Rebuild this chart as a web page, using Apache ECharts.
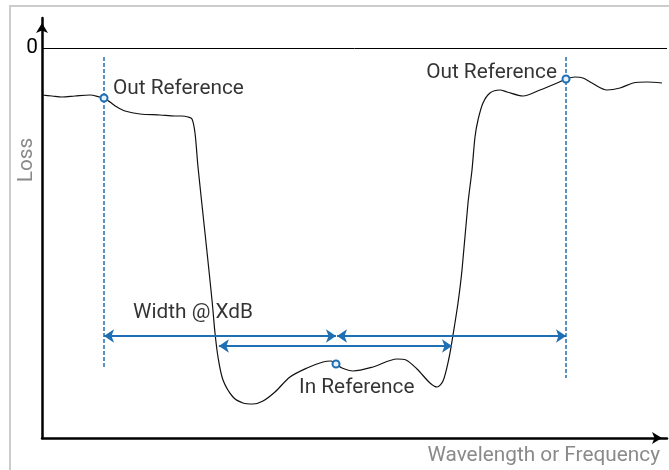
<!DOCTYPE html>
<html>
<head>
<meta charset="utf-8">
<script src="https://cdn.jsdelivr.net/npm/echarts@6/dist/echarts.min.js"></script>
<style>
  html, body { margin: 0; padding: 0; background: #fff; }
  #chart { width: 669px; height: 470px; }
</style>
</head>
<body>
<div id="chart"></div>
<script>
// Filter response: position along the spectrum (0–100) vs level in dB (0 = no loss)
const curveX = [0, 1.6, 3.2, 5.28, 7.68, 9.28, 9.92, 10.88, 12.0, 13.28, 15.68, 18.88, 21.28, 22.4, 23.36, 24.0,
  24.48, 24.96, 26.08, 27.2, 27.68, 28.16, 28.96, 30.56, 32.16, 33.76, 35.36, 37.28, 39.68, 42.4, 44.96, 46.24,
  47.04, 48.0, 49.76, 52.96, 56.8, 58.24, 60.0, 62.08, 63.2, 64.16, 65.12, 65.76, 66.56, 67.2, 68.16, 68.8,
  69.28, 69.76, 70.56, 71.68, 73.28, 74.4, 76.96, 79.68, 82.4, 83.84, 85.28, 86.56, 88.0, 90.4, 92.48, 94.56,
  96.8, 99.2];
const curveY = [-4.7, -4.8, -4.9, -4.8, -4.7, -4.9, -5.0, -5.4, -5.9, -6.3, -6.6, -6.7, -6.8, -6.8, -6.9, -7.1,
  -8.5, -11.9, -18.5, -25.2, -28.5, -30.9, -33.2, -34.9, -35.5, -35.6, -35.3, -34.4, -32.9, -32.0, -31.4, -31.3,
  -31.6, -32.0, -32.3, -31.9, -31.1, -31.2, -32.1, -33.5, -33.9, -33.3, -31.0, -28.7, -25.5, -22.2, -15.5, -12.2,
  -8.9, -7.2, -5.5, -4.5, -4.2, -4.4, -4.8, -4.2, -3.5, -3.1, -2.9, -3.0, -3.5, -4.2, -4.0, -3.5,
  -3.4, -3.5];

// Reference points
const refNames = ['Out Reference', 'Out Reference', 'In Reference'];
const refX = [9.92, 83.84, 47.04];
const refY = [-5.0, -3.1, -31.6];

// Vertical guides through the out-of-band references
const guideTop = -0.9;
const guideBottom = [-32.0, -33.0];

// Width measurements: [xStart, xEnd, level]
const spans = [
  [9.92, 47.04, -28.8],
  [47.2, 83.84, -28.8],
  [28.3, 65.6, -29.8]
];

// Annotation text anchors: [text, x, y, align]
const notes = [
  ['Out Reference', 11.36, -4.1, 'left'],
  ['Out Reference', 82.4, -2.5, 'right'],
  ['Width @ XdB', 14.56, -26.5, 'left'],
  ['In Reference', 41.12, -34.0, 'left']
];

const BLUE = '#1f6fb4';
const FONT = 'Roboto';
const TEXT_SIZE = 20.8;

const chart = echarts.init(document.getElementById('chart'), null, { renderer: 'canvas' });

const series = [];

// Measured response curve, with the 0 dB reference line
series.push({
  type: 'line',
  data: curveX.map((x, i) => [x, curveY[i]]),
  smooth: 0.3,
  showSymbol: false,
  lineStyle: { color: '#111', width: 1.2 },
  z: 3,
  markLine: {
    silent: true,
    symbol: ['none', 'none'],
    label: { show: false },
    lineStyle: { color: '#000', width: 1, type: 'solid' },
    data: [{ yAxis: 0 }]
  }
});

// Dashed verticals
refX.slice(0, 2).forEach((x, i) => {
  series.push({
    type: 'line',
    data: [[x, guideTop], [x, guideBottom[i]]],
    showSymbol: false,
    lineStyle: { color: BLUE, width: 1.5, type: [4, 2] },
    z: 2
  });
});

// Double-headed width arrows
series.push({
  type: 'line',
  data: [],
  markLine: {
    silent: true,
    symbol: ['arrow', 'arrow'],
    symbolSize: [10, 10],
    label: { show: false },
    lineStyle: { color: BLUE, width: 2, type: 'solid' },
    data: spans.map(s => [{ coord: [s[0], s[2]] }, { coord: [s[1], s[2]] }])
  },
  z: 4
});

// Reference markers
series.push({
  type: 'scatter',
  data: refX.map((x, i) => ({ name: refNames[i], value: [x, refY[i]] })),
  symbol: 'circle',
  symbolSize: 7,
  itemStyle: { color: '#e8f1f9', borderColor: BLUE, borderWidth: 2, opacity: 1 },
  z: 6
});

// Text annotations
series.push({
  type: 'scatter',
  data: notes.map(n => ({
    value: [n[1], n[2]],
    label: { formatter: n[0], align: n[3] }
  })),
  symbolSize: 0,
  silent: true,
  label: {
    show: true,
    position: [0, 0],
    verticalAlign: 'middle',
    color: '#000',
    fontFamily: FONT,
    fontSize: TEXT_SIZE
  },
  z: 7
});

chart.setOption({
  animation: false,
  backgroundColor: '#fff',
  grid: { left: 42, right: 2, top: 18, bottom: 32 },
  xAxis: {
    type: 'value',
    min: 0,
    max: 100,
    axisLine: {
      show: true,
      onZero: false,
      symbol: ['none', 'arrow'],
      symbolSize: [9, 10],
      symbolOffset: [0, -5],
      lineStyle: { color: '#000', width: 2.5 }
    },
    axisTick: { show: false },
    axisLabel: { show: false },
    splitLine: { show: false }
  },
  yAxis: {
    type: 'value',
    min: -39,
    max: 3,
    axisLine: {
      show: true,
      onZero: false,
      symbol: ['none', 'arrow'],
      symbolSize: [9, 10],
      symbolOffset: [0, -5],
      lineStyle: { color: '#000', width: 2.5 }
    },
    axisTick: { show: false },
    axisLabel: {
      customValues: [0],
      formatter: v => (v === 0 ? '0' : ''),
      color: '#000',
      fontFamily: FONT,
      fontSize: TEXT_SIZE,
      margin: 4
    },
    splitLine: { show: false }
  },
  graphic: [
    {
      type: 'rect',
      shape: { x: 10, y: 6, width: 700, height: 500 },
      style: { fill: 'none', stroke: '#cccccc', lineWidth: 2 },
      silent: true,
      z: -1
    },
    {
      type: 'text',
      x: 27,
      y: 160,
      rotation: Math.PI / 2,
      style: {
        text: 'Loss',
        align: 'center',
        verticalAlign: 'middle',
        fill: '#8a8a8a',
        font: TEXT_SIZE + 'px ' + FONT
      }
    },
    {
      type: 'text',
      x: 660,
      y: 456,
      style: {
        text: 'Wavelength or Frequency',
        align: 'right',
        verticalAlign: 'middle',
        fill: '#8a8a8a',
        font: TEXT_SIZE + 'px ' + FONT
      }
    }
  ],
  series: series
});
</script>
</body>
</html>
